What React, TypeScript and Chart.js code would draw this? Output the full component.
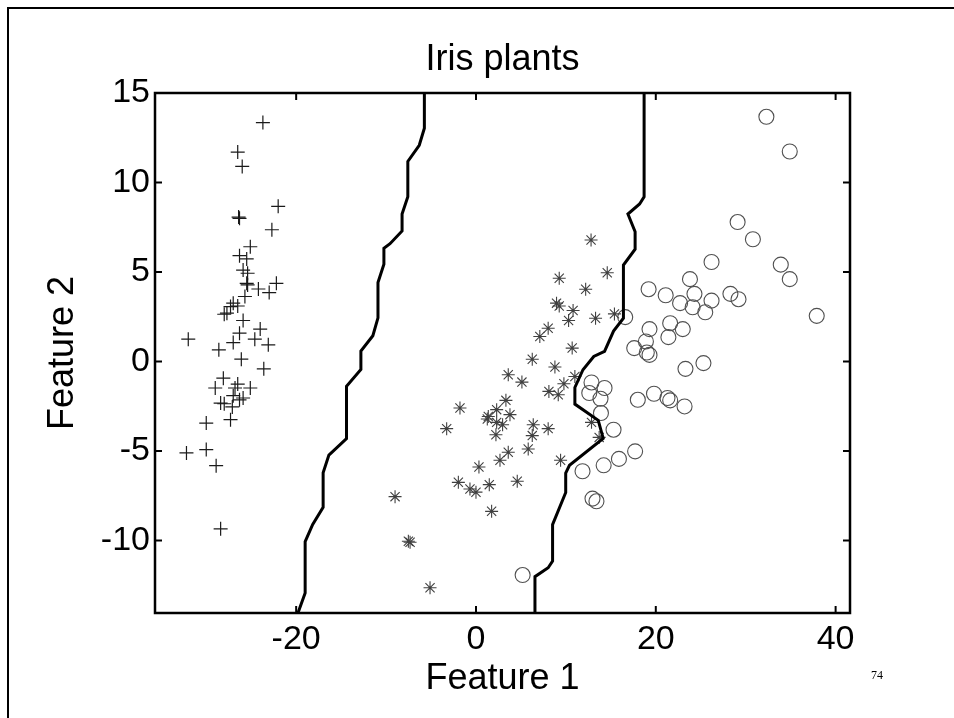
import React, { useEffect, useRef } from "react";
import { Chart, registerables } from "chart.js";

Chart.register(...registerables);

// ---- data ----
const chartTitle = "Iris plants";
const xAxisTitle = "Feature 1";
const yAxisTitle = "Feature 2";
const pageNumber = "74";

const xTicks = [-20, 0, 20, 40];
const yTicks = [-10, -5, 0, 5, 10, 15];
const xRange = [-35.7, 41.6];
const yRange = [-14.05, 15];

// "+" class
const plusPoints: number[][] = [
  [-23.7, 13.35], [-26.5, 11.7], [-26.0, 10.9], [-22.0, 8.67], [-26.4, 8.07], [-26.3, 8.0],
  [-22.7, 7.36], [-25.1, 6.41], [-26.3, 5.91], [-25.5, 5.73], [-25.9, 5.11], [-25.4, 4.93],
  [-25.5, 4.37], [-22.2, 4.37], [-25.4, 4.28], [-24.2, 4.05], [-23.0, 3.85], [-25.7, 3.63],
  [-27.0, 3.26], [-26.5, 3.1], [-27.3, 3.07], [-27.7, 2.7], [-28.0, 2.64], [-25.9, 2.29],
  [-24.0, 1.81], [-26.3, 1.58], [-32.0, 1.25], [-24.6, 1.25], [-27.0, 1.06], [-23.1, 0.93],
  [-28.6, 0.65], [-26.1, 0.13], [-23.6, -0.41], [-28.1, -0.93], [-29.0, -1.48], [-26.5, -1.26],
  [-26.8, -1.48], [-25.1, -1.48], [-27.0, -1.91], [-25.9, -2.04], [-28.4, -2.32], [-28.0, -2.36],
  [-26.3, -2.14], [-27.1, -2.54], [-27.3, -3.25], [-30.0, -3.44], [-30.0, -4.92], [-32.2, -5.11],
  [-28.9, -5.82], [-28.4, -9.35],
];

// "*" class
const starPoints: number[][] = [
  [12.8, 6.79], [9.26, 4.65], [14.6, 4.96], [12.2, 4.04], [8.96, 3.26], [9.26, 3.1],
  [10.8, 2.85], [10.3, 2.29], [13.3, 2.42], [15.4, 2.66], [8.03, 1.86], [7.1, 1.4],
  [10.7, 0.75], [6.26, 0.13], [8.78, -0.31], [3.59, -0.74], [11.0, -0.84], [5.11, -1.15],
  [9.78, -1.24], [8.11, -1.67], [9.15, -1.86], [3.33, -2.17], [-1.78, -2.6], [2.3, -2.69],
  [1.37, -3.07], [3.78, -2.97], [1.26, -3.21], [2.3, -3.4], [2.96, -3.53], [-3.26, -3.75],
  [6.37, -3.53], [8.03, -3.75], [2.22, -4.09], [6.26, -4.14], [12.85, -3.4], [13.7, -4.24],
  [5.81, -4.89], [3.59, -5.07], [2.67, -5.52], [9.41, -5.52], [0.33, -5.89], [1.48, -6.88],
  [-1.96, -6.75], [-0.67, -7.12], [0, -7.3], [4.59, -6.69], [1.74, -8.37], [-7.33, -10.1],
  [-7.52, -10.04], [-5.11, -12.64], [-9.0, -7.55],
];

// "o" class
const circlePoints: number[][] = [
  [32.3, 13.67], [34.9, 11.73], [29.1, 7.79], [30.8, 6.83], [26.2, 5.56], [33.9, 5.41],
  [34.9, 4.6], [23.8, 4.6], [19.2, 4.04], [21.1, 3.7], [24.3, 3.78], [28.3, 3.78],
  [29.2, 3.48], [26.2, 3.4], [22.7, 3.26], [24.1, 3.03], [25.5, 2.75], [37.9, 2.55],
  [16.6, 2.48], [19.3, 1.81], [21.6, 2.14], [23.0, 1.81], [21.4, 1.36], [18.9, 1.12],
  [17.6, 0.75], [19.0, 0.5], [19.3, 0.37], [23.3, -0.41], [25.3, -0.09], [12.85, -1.17],
  [14.3, -1.48], [12.6, -1.76], [13.85, -2.08], [18.0, -2.14], [19.8, -1.8], [21.3, -2.04],
  [21.6, -2.17], [23.2, -2.51], [13.9, -2.88], [15.3, -3.81], [17.7, -5.02], [15.9, -5.44],
  [14.2, -5.8], [11.85, -6.13], [12.96, -7.66], [13.4, -7.81], [5.19, -11.93],
];

// decision boundaries
const leftBoundary: number[][] = [
  [-5.74, 15.0], [-5.74, 13.03], [-6.31, 12.08], [-7.58, 11.18], [-7.58, 9.2], [-8.22, 8.24],
  [-8.22, 7.29], [-9.56, 6.58], [-10.24, 6.33], [-10.24, 5.43], [-10.9, 4.41], [-10.9, 2.44],
  [-11.47, 1.44], [-12.8, 0.58], [-12.8, -0.44], [-14.4, -1.39], [-14.4, -4.31], [-16.36, -5.23],
  [-17.0, -6.22], [-17.0, -8.14], [-18.16, -9.1], [-19.0, -10.06], [-19.0, -12.93], [-19.8, -14.05],
];

const rightBoundary: number[][] = [
  [18.7, 15.0], [18.7, 9.2], [18.2, 8.8], [16.9, 8.24], [17.7, 7.25], [17.7, 6.27],
  [16.4, 5.39], [16.4, 2.42], [15.3, 1.7], [14.3, 0.56], [13.1, 0.28], [11.9, -0.46],
  [11.0, -1.45], [11.0, -2.38], [13.6, -3.29], [14.15, -4.3], [10.4, -5.8], [9.98, -6.24],
  [9.98, -7.32], [8.52, -9.11], [8.52, -11.15], [8.03, -11.52], [6.56, -12.02], [6.56, -14.05],
];

const toXY = (pts: number[][]) => pts.map(([x, y]) => ({ x, y }));

const FONT = '"Liberation Sans", Arial, Helvetica, sans-serif';

const decorPlugin = {
  id: "decor",
  beforeDraw(chart: any) {
    const ctx = chart.ctx;
    ctx.save();
    ctx.fillStyle = "#fff";
    ctx.fillRect(0, 0, chart.width, chart.height);
    ctx.strokeStyle = "#000";
    ctx.lineWidth = 2;
    ctx.beginPath();
    ctx.moveTo(8, chart.height);
    ctx.lineTo(8, 8);
    ctx.lineTo(chart.width, 8);
    ctx.stroke();
    ctx.restore();
  },
  afterDraw(chart: any) {
    const { ctx, chartArea: a, scales } = chart;
    ctx.save();
    ctx.strokeStyle = "#000";
    ctx.lineWidth = 2.5;
    ctx.strokeRect(a.left, a.top, a.right - a.left, a.bottom - a.top);
    ctx.lineWidth = 2;
    const tl = 7;
    const seg = (x1: number, y1: number, x2: number, y2: number) => {
      ctx.beginPath();
      ctx.moveTo(x1, y1);
      ctx.lineTo(x2, y2);
      ctx.stroke();
    };
    scales.x.ticks.forEach((t: any) => {
      const px = scales.x.getPixelForValue(t.value);
      seg(px, a.bottom, px, a.bottom - tl);
      seg(px, a.top, px, a.top + tl);
    });
    scales.y.ticks.forEach((t: any) => {
      const py = scales.y.getPixelForValue(t.value);
      seg(a.left, py, a.left + tl, py);
      seg(a.right, py, a.right - tl, py);
    });
    ctx.fillStyle = "#000";
    ctx.textAlign = "center";
    ctx.textBaseline = "middle";
    ctx.font = `36px ${FONT}`;
    ctx.fillText(chartTitle, (a.left + a.right) / 2, 60);
    ctx.font = '12px "Liberation Serif", "DejaVu Serif", serif';
    ctx.fillText(pageNumber, 877, 676);
    ctx.restore();
  },
};

export default function App() {
  const ref = useRef<HTMLCanvasElement | null>(null);

  useEffect(() => {
    document.body.style.margin = "0";
    if (!ref.current) return;
    const chart = new Chart(ref.current, {
      type: "scatter",
      data: {
        datasets: [
          {
            label: "boundary 1",
            data: toXY(leftBoundary),
            showLine: true,
            borderColor: "#000",
            borderWidth: 3,
            pointRadius: 0,
            fill: false,
            order: 0,
          } as any,
          {
            label: "boundary 2",
            data: toXY(rightBoundary),
            showLine: true,
            borderColor: "#000",
            borderWidth: 3,
            pointRadius: 0,
            fill: false,
            order: 0,
          } as any,
          {
            label: "class +",
            data: toXY(plusPoints),
            pointStyle: "cross",
            pointRadius: 7,
            pointBorderWidth: 1.2,
            borderColor: "#1a1a1a",
            backgroundColor: "transparent",
            order: 1,
          },
          {
            label: "class *",
            data: toXY(starPoints),
            pointStyle: "star",
            pointRadius: 6.5,
            pointBorderWidth: 1.1,
            borderColor: "#404040",
            backgroundColor: "transparent",
            order: 1,
          },
          {
            label: "class o",
            data: toXY(circlePoints),
            pointStyle: "circle",
            pointRadius: 7.5,
            pointBorderWidth: 1.1,
            borderColor: "#505050",
            backgroundColor: "transparent",
            order: 1,
          },
        ],
      },
      options: {
        animation: false,
        responsive: false,
        events: [],
        layout: { padding: { left: 0, right: 104, top: 93, bottom: 0 } },
        plugins: {
          legend: { display: false },
          title: { display: false },
          tooltip: { enabled: false },
        },
        scales: {
          x: {
            type: "linear",
            min: xRange[0],
            max: xRange[1],
            afterBuildTicks: (s: any) => {
              s.ticks = xTicks.map((v) => ({ value: v }));
            },
            afterFit: (s: any) => {
              s.height = 105;
            },
            grid: { display: false, drawTicks: false },
            border: { display: false },
            ticks: {
              color: "#000",
              padding: 6,
              font: { family: FONT, size: 34 },
              callback: (v: any) => String(v),
            },
            title: {
              display: true,
              text: xAxisTitle,
              color: "#000",
              font: { family: FONT, size: 36 },
              padding: { top: 0, bottom: 17 },
            },
          },
          y: {
            type: "linear",
            min: yRange[0],
            max: yRange[1],
            afterBuildTicks: (s: any) => {
              s.ticks = yTicks.map((v) => ({ value: v }));
            },
            afterFit: (s: any) => {
              s.width = 155;
            },
            grid: { display: false, drawTicks: false },
            border: { display: false },
            ticks: {
              color: "#000",
              padding: 5,
              font: { family: FONT, size: 34 },
              callback: (v: any) => String(v),
            },
            title: {
              display: true,
              text: yAxisTitle,
              color: "#000",
              font: { family: FONT, size: 36 },
              padding: { top: 41, bottom: 0 },
            },
          },
        },
      },
      plugins: [decorPlugin],
    });
    return () => chart.destroy();
  }, []);

  return (
    <div style={{ width: 954, height: 718 }}>
      <canvas ref={ref} width={954} height={718} style={{ display: "block" }} />
    </div>
  );
}
